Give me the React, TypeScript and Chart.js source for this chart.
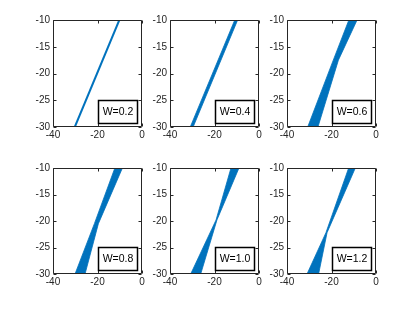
import React, { useEffect, useRef } from "react";
import { Chart, registerables } from "chart.js";

Chart.register(...registerables);

const BLUE = "#0072BD";
const AXIS = "#262626";
const FONT = "'Liberation Sans', Arial, Helvetica, sans-serif";

const panelLabels = ["W=0.2", "W=0.4", "W=0.6", "W=0.8", "W=1.0", "W=1.2"];
const xTicks = [-40, -20, 0];
const yTicks = [-30, -25, -20, -15, -10];

// Edge of each blue band: y levels with left and right x at those levels
const bandY = [
  [-30, -10],
  [-30, -10],
  [-30, -17.5, -10],
  [-30, -20.5, -10],
  [-30, -19.8, -10],
  [-30, -22.2, -10],
];
const bandLeftX = [
  [-30.2, -10.2],
  [-30.9, -10.9],
  [-30.7, -19.2, -12.2],
  [-30.1, -21.4, -12.2],
  [-30.7, -19.3, -12.6],
  [-31.0, -22.5, -12.3],
];
const bandRightX = [
  [-30.2, -10.2],
  [-29.6, -9.6],
  [-26.1, -16.9, -8.5],
  [-25.6, -19.6, -8.8],
  [-26.2, -18.9, -9.0],
  [-25.8, -22.0, -9.3],
];

const colLeft = [53, 170, 287];
const rowTop = [20, 168];
const plotW = 89;
const plotH = [107, 106];

const AX_W = 40;
const AX_H = 22;
const PAD_T = 10;
const PAD_R = 12;

function Panel({ idx }: { idx: number }) {
  const ref = useRef<HTMLCanvasElement | null>(null);
  const col = idx % 3;
  const row = Math.floor(idx / 3);
  const w = AX_W + plotW + PAD_R;
  const h = PAD_T + plotH[row] + AX_H;
  const left = colLeft[col] - AX_W;
  const top = rowTop[row] - PAD_T;

  useEffect(() => {
    if (!ref.current) return;
    const ys = bandY[idx];
    const lx = bandLeftX[idx];
    const rx = bandRightX[idx];
    const pts: { x: number; y: number }[] = [];
    if (idx === 0) {
      for (let k = 0; k < ys.length; k++) pts.push({ x: lx[k], y: ys[k] });
    } else {
      for (let k = 0; k < ys.length; k++) pts.push({ x: lx[k], y: ys[k] });
      for (let k = ys.length - 1; k >= 0; k--) pts.push({ x: rx[k], y: ys[k] });
      pts.push({ x: lx[0], y: ys[0] });
    }
    const label = panelLabels[idx];

    const framePlugin = {
      id: "frame" + idx,
      afterDatasetsDraw(chart: any) {
        const ctx = chart.ctx;
        const a = chart.chartArea;
        const sx = chart.scales.x;
        const sy = chart.scales.y;
        const L = Math.round(a.left) + 0.5;
        const R = Math.round(a.right) - 0.5;
        const T = Math.round(a.top) + 0.5;
        const B = Math.round(a.bottom) - 0.5;
        ctx.save();
        ctx.strokeStyle = AXIS;
        ctx.lineWidth = 1;
        ctx.beginPath();
        ctx.rect(L, T, R - L, B - T);
        ctx.stroke();
        const tl = 3;
        ctx.beginPath();
        xTicks.forEach((v) => {
          const px = Math.round(sx.getPixelForValue(v)) + 0.5;
          ctx.moveTo(px, B);
          ctx.lineTo(px, B - tl);
          ctx.moveTo(px, T);
          ctx.lineTo(px, T + tl);
        });
        yTicks.forEach((v) => {
          const py = Math.round(sy.getPixelForValue(v)) + 0.5;
          ctx.moveTo(L, py);
          ctx.lineTo(L + tl, py);
          ctx.moveTo(R, py);
          ctx.lineTo(R - tl, py);
        });
        ctx.stroke();
        // legend box
        const bw = 39;
        const bh = 23;
        const bx = a.right - 4.5 - bw;
        const by = a.bottom - 3.5 - bh;
        ctx.fillStyle = "#fff";
        ctx.fillRect(bx, by, bw, bh);
        ctx.strokeStyle = "#000";
        ctx.lineWidth = 1.5;
        ctx.strokeRect(bx, by, bw, bh);
        ctx.fillStyle = "#000";
        ctx.font = "10.5px " + FONT;
        ctx.textAlign = "center";
        ctx.textBaseline = "middle";
        ctx.fillText(label, bx + bw / 2, by + bh / 2 + 0.5);
        ctx.restore();
      },
    };

    const chart = new Chart(ref.current, {
      type: "scatter",
      data: {
        datasets: [
          {
            data: pts,
            showLine: true,
            fill: idx === 0 ? false : "shape",
            backgroundColor: BLUE,
            borderColor: BLUE,
            borderWidth: idx === 0 ? 2 : 0.8,
            pointRadius: 0,
            tension: 0,
          } as any,
        ],
      },
      options: {
        animation: false,
        responsive: false,
        maintainAspectRatio: false,
        devicePixelRatio: 1,
        layout: { padding: { top: PAD_T, right: PAD_R, left: 0, bottom: 0 } },
        plugins: { legend: { display: false }, tooltip: { enabled: false } },
        scales: {
          x: {
            type: "linear",
            min: -40,
            max: 0,
            afterBuildTicks: (s: any) => {
              s.ticks = xTicks.map((v) => ({ value: v }));
            },
            grid: { display: false, drawTicks: false },
            border: { display: false },
            ticks: {
              padding: 2,
              color: AXIS,
              maxRotation: 0,
              autoSkip: false,
              font: { size: 10, family: FONT },
            },
            afterFit: (s: any) => {
              s.height = AX_H;
            },
          },
          y: {
            type: "linear",
            min: -30,
            max: -10,
            afterBuildTicks: (s: any) => {
              s.ticks = yTicks.map((v) => ({ value: v }));
            },
            grid: { display: false, drawTicks: false },
            border: { display: false },
            ticks: {
              padding: 3,
              color: AXIS,
              autoSkip: false,
              font: { size: 10, family: FONT },
            },
            afterFit: (s: any) => {
              s.width = AX_W;
            },
          },
        },
      } as any,
      plugins: [framePlugin],
    });
    return () => chart.destroy();
  }, [idx]);

  return (
    <canvas
      ref={ref}
      width={w}
      height={h}
      style={{ position: "absolute", left, top, width: w, height: h }}
    />
  );
}

export default function App() {
  return (
    <div
      style={{
        position: "fixed",
        left: 0,
        top: 0,
        width: 415,
        height: 334,
        background: "#fff",
        overflow: "hidden",
      }}
    >
      {[0, 1, 2, 3, 4, 5].map((i) => (
        <Panel key={i} idx={i} />
      ))}
    </div>
  );
}
